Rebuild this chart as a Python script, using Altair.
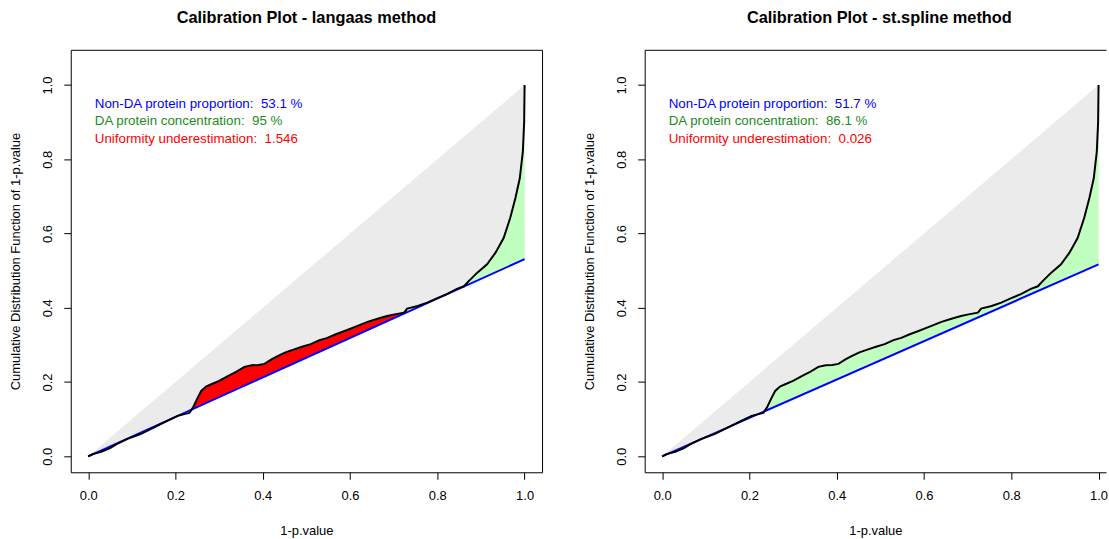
import altair as alt
import pandas as pd

# ---- data ----
CURVE_X = [0.0, 0.01, 0.03, 0.05, 0.065, 0.09, 0.12, 0.15, 0.18, 0.205, 0.225, 0.232,
           0.24, 0.251, 0.259, 0.27, 0.282, 0.30, 0.32, 0.34, 0.358, 0.375, 0.39, 0.404,
           0.42, 0.434, 0.452, 0.472, 0.49, 0.51, 0.53, 0.548, 0.566, 0.586, 0.61, 0.64,
           0.665, 0.685, 0.705, 0.7235, 0.731, 0.755, 0.777, 0.80, 0.822, 0.845, 0.861,
           0.872, 0.891, 0.914, 0.933, 0.952, 0.967, 0.979, 0.989, 0.996, 0.999, 1.0]
CURVE_Y = [0.0, 0.006, 0.012, 0.022, 0.033, 0.047, 0.060, 0.077, 0.095, 0.109, 0.115, 0.117,
           0.131, 0.158, 0.176, 0.188, 0.194, 0.203, 0.216, 0.228, 0.241, 0.245, 0.246, 0.249,
           0.261, 0.270, 0.280, 0.288, 0.295, 0.302, 0.313, 0.319, 0.328, 0.337, 0.348, 0.362,
           0.371, 0.378, 0.383, 0.387, 0.398, 0.405, 0.414, 0.426, 0.437, 0.451, 0.458,
           0.472, 0.494, 0.517, 0.548, 0.588, 0.642, 0.696, 0.749, 0.821, 0.900, 1.0]

METHODS = ["langaas", "st.spline"]
PI0 = [0.531, 0.517]
NON_DA = ["53.1", "51.7"]
DA_CONC = ["95", "86.1"]
UNIF = ["1.546", "0.026"]
RED_CUT = [0.731, 0.0]   # x where the red (underestimation) zone ends

TICKS = [0.0, 0.2, 0.4, 0.6, 0.8, 1.0]
FONT = "Liberation Sans"


def panel(i, width, xmax, framed, title_dx):
    pi0 = PI0[i]
    xs = alt.Scale(domain=[-0.04, xmax], nice=False, zero=False)
    ys = alt.Scale(domain=[-0.043, 1.095], nice=False, zero=False)

    tri = pd.DataFrame({"x": [0.0, 1.0], "top": [0.0, 1.0], "bot": [0.0, pi0]})
    line = pd.DataFrame({"x": [0.0, 1.0], "y": [0.0, pi0]})
    curve = pd.DataFrame({"x": CURVE_X, "y": CURVE_Y})

    rows = []
    cut = RED_CUT[i]
    for x, y in zip(CURVE_X, CURVE_Y):
        lo = pi0 * x
        up = max(y, lo)
        if x <= cut:
            rows.append({"x": x, "up": up, "lo": lo, "zone": "red"})
        if x >= cut:
            rows.append({"x": x, "up": up, "lo": lo, "zone": "green"})
    fill = pd.DataFrame(rows)

    dom = not framed
    xaxis = alt.Axis(values=TICKS, format=".1f", title="1-p.value", grid=False,
                     domain=dom, domainColor="black", tickColor="black", tickSize=7,
                     labelFont=FONT, labelFontSize=13, labelColor="black",
                     labelPadding=10, titleFont=FONT, titleFontSize=13,
                     titleFontWeight="normal", titleColor="black", titlePadding=22)
    yaxis = alt.Axis(values=TICKS, format=".1f",
                     title="Cumulative Distribution Function of 1-p.value", grid=False,
                     domain=dom, domainColor="black", tickColor="black", tickSize=7,
                     labelAngle=270, labelAlign="center", labelBaseline="bottom",
                     labelFont=FONT, labelFontSize=13, labelColor="black",
                     labelPadding=9, titleFont=FONT, titleFontSize=13,
                     titleFontWeight="normal", titleColor="black", titlePadding=19)
    Y = lambda f: alt.Y(f, scale=ys, axis=yaxis)

    gray = alt.Chart(tri).mark_area(color="#EBEBEB", opacity=1).encode(
        x=alt.X("x:Q", scale=xs, axis=xaxis),
        y=Y("top:Q"),
        y2="bot:Q")

    if framed:
        fill_x = alt.X("x:Q", scale=xs, axis=None)
    else:
        fill_x = alt.X("x:Q", scale=xs,
                       axis=alt.Axis(orient="top", labels=False, ticks=False, title=None,
                                     grid=False, domain=True, domainColor="black"))
    fills = alt.Chart(fill).mark_area(opacity=1).encode(
        x=fill_x,
        y=Y("up:Q"),
        y2="lo:Q",
        color=alt.Color("zone:N", scale=alt.Scale(domain=["red", "green"],
                                                  range=["#FF0000", "#C1FFC1"]),
                        legend=None))

    blue = alt.Chart(line).mark_line(color="#0000FF", strokeWidth=2).encode(
        x=alt.X("x:Q", scale=xs, axis=None), y=Y("y:Q"))

    black = alt.Chart(curve).mark_line(color="black", strokeWidth=2).encode(
        x=alt.X("x:Q", scale=xs, axis=None), y=Y("y:Q"),
        order="x:Q")

    txt = pd.DataFrame({
        "x": [0.015, 0.015, 0.015],
        "y": [0.950, 0.903, 0.856],
        "t": [f"Non-DA protein proportion:\u00a0 {NON_DA[i]} %",
              f"DA protein concentration:\u00a0 {DA_CONC[i]} %",
              f"Uniformity underestimation:\u00a0 {UNIF[i]}"],
        "c": ["#0000FF", "#228B22", "#FF0000"],
    })
    texts = alt.Chart(txt).mark_text(align="left", baseline="middle", font=FONT,
                                     fontSize=13.4).encode(
        x=alt.X("x:Q", scale=xs, axis=None), y=Y("y:Q"),
        text="t:N", color=alt.Color("c:N", scale=None))

    layered = alt.layer(gray, fills, blue, black, texts).resolve_axis(x="independent")
    title = alt.TitleParams(f"Calibration Plot - {METHODS[i]} method", font=FONT,
                            fontSize=16.4, fontWeight="bold", color="black",
                            anchor="middle", frame="group", baseline="alphabetic",
                            offset=10, dx=title_dx)
    props = dict(width=width, height=424, title=title)
    if not framed:
        props["view"] = alt.ViewBackground(stroke="transparent")
    return layered.properties(**props)


left = panel(0, 473, 1.04, True, 0)
right = panel(1, 463, -0.04 + 463 / 438.0, False, 4)

chart = alt.hconcat(left, right, spacing=40).properties(
    padding={"left": 9, "top": 9, "right": 0, "bottom": 0}
).configure_view(stroke="black", strokeWidth=1)

chart.save("out.html", embed_options={"renderer": "svg", "actions": False})
